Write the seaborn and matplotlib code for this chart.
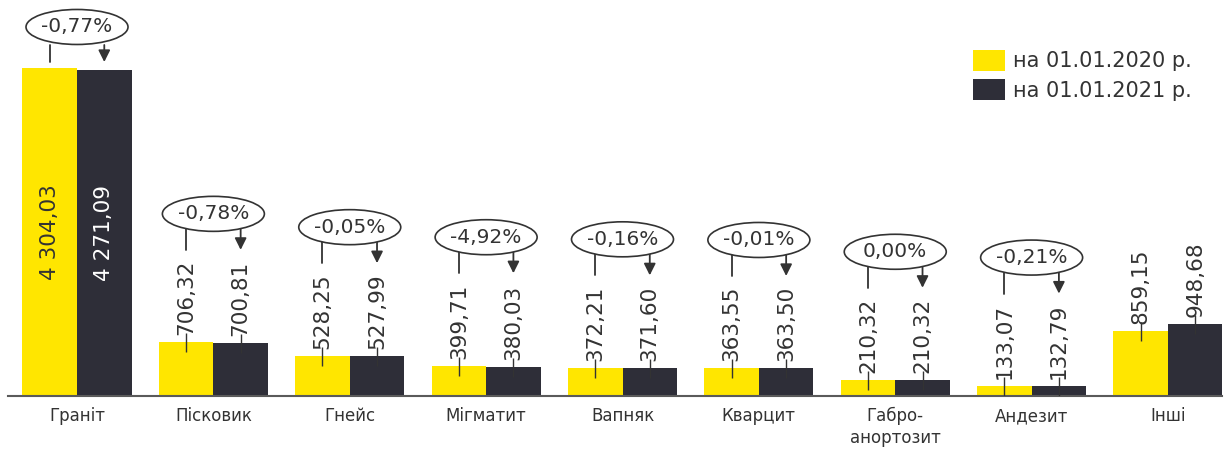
import numpy as np
import pandas as pd
import seaborn as sns
import matplotlib
matplotlib.use("Agg")
import matplotlib.pyplot as plt
from matplotlib.patches import Ellipse

# Reserves by rock type (million m3) and the relative change between the dates
categories = ["Граніт", "Пісковик", "Гнейс", "Мігматит", "Вапняк", "Кварцит",
              "Габро-\nанортозит", "Андезит", "Інші"]
reserves_2020 = [4304.03, 706.32, 528.25, 399.71, 372.21, 363.55, 210.32, 133.07, 859.15]
reserves_2021 = [4271.09, 700.81, 527.99, 380.03, 371.60, 363.50, 210.32, 132.79, 948.68]
change_labels = ["-0,77%", "-0,78%", "-0,05%", "-4,92%", "-0,16%", "-0,01%",
                 "0,00%", "-0,21%", None]
series_names = ["на 01.01.2020 р.", "на 01.01.2021 р."]

YELLOW = "#FFE600"
DARK = "#2E2E38"
TEXT = "#333333"


def fmt(v):
    s = f"{v:,.2f}"
    return s.replace(",", " ").replace(".", ",")


df = pd.DataFrame({
    "category": categories * 2,
    "value": reserves_2020 + reserves_2021,
    "period": [series_names[0]] * len(categories) + [series_names[1]] * len(categories),
})

sns.set_theme(style="white")
plt.rcParams["font.family"] = ["DejaVu Sans"]

W, H = 1231, 451
fig = plt.figure(figsize=(W / 100, H / 100), dpi=100)
ax = fig.add_axes([8 / W, 55 / H, 1214 / W, 396 / H])

sns.barplot(data=df, x="category", y="value", hue="period", order=categories,
            hue_order=series_names, palette=[YELLOW, DARK], saturation=1,
            width=0.8, gap=0, linewidth=0, errorbar=None, ax=ax)

ax.set_xlim(-0.506, 8.396)
ax.set_ylim(0, 5196)
ax.set_xlabel("")
ax.set_ylabel("")
ax.set_yticks([])
for side in ["left", "right", "top"]:
    ax.spines[side].set_visible(False)
ax.spines["bottom"].set_color("#5a5a5a")
ax.spines["bottom"].set_linewidth(1.5)
ax.tick_params(axis="x", length=0, pad=8, labelsize=12, labelcolor=TEXT)
for lbl in ax.get_xticklabels():
    lbl.set_linespacing(1.25)

handles, labels = ax.get_legend_handles_labels()
ax.legend(handles, labels, loc="upper left",
          bbox_to_anchor=(973 / W, 1 - 50 / H), bbox_transform=fig.transFigure,
          frameon=False, fontsize=15, labelcolor=TEXT,
          handlelength=1.54, handleheight=1.15, handletextpad=0.4,
          labelspacing=0.38, borderpad=0, borderaxespad=0)

# value labels
bars = [list(c) for c in ax.containers[:2]]
label_artists = [[None] * len(categories) for _ in range(2)]
for s in range(2):
    for i, bar in enumerate(bars[s]):
        x = bar.get_x() + bar.get_width() / 2
        h = bar.get_height()
        if i == 0:
            ax.text(x, h / 2, fmt(h), rotation=90, ha="center", va="center",
                    fontsize=15.5, color=TEXT if s == 0 else "white", zorder=5)
        else:
            t = ax.annotate(fmt(h), (x, h), xytext=(0, 5), textcoords="offset points",
                            rotation=90, ha="center", va="bottom", fontsize=15.5,
                            color=TEXT, zorder=5)
            label_artists[s][i] = t

fig.canvas.draw()
renderer = fig.canvas.get_renderer()
to_disp = ax.transData
to_data = ax.transData.inverted()
px_per_x = to_disp.transform((1, 0))[0] - to_disp.transform((0, 0))[0]
px_per_y = to_disp.transform((0, 1))[1] - to_disp.transform((0, 0))[1]


def ydata(py):
    return to_data.transform((0, py))[1]


# short leader ticks from labels into bars
for s in range(2):
    for i, bar in enumerate(bars[s]):
        if i == 0:
            continue
        x = bar.get_x() + bar.get_width() / 2
        top_px = to_disp.transform((x, bar.get_height()))[1]
        ax.plot([x, x], [ydata(top_px - 10), ydata(top_px + 9)], color=TEXT,
                lw=1.0, zorder=4, solid_capstyle="butt")

# change callouts
for i, lab in enumerate(change_labels):
    if lab is None:
        continue
    b0, b1 = bars[0][i], bars[1][i]
    x0 = b0.get_x() + b0.get_width() / 2
    x1 = b1.get_x() + b1.get_width() / 2
    xc = (x0 + x1) / 2
    if i == 0:
        ref = max(to_disp.transform((x0, b0.get_height()))[1],
                  to_disp.transform((x1, b1.get_height()))[1])
        y_lo, y_hi, y_c = ref + 6, ref + 23, ref + 41
    else:
        ref = max(label_artists[0][i].get_window_extent(renderer).y1,
                  label_artists[1][i].get_window_extent(renderer).y1)
        y_lo, y_hi, y_c = ref + 10, ref + 31, ref + 46
    ax.plot([x0, x0], [ydata(y_lo), ydata(y_hi)], color=TEXT, lw=1.3, zorder=4)
    ax.annotate("", xy=(x1, ydata(y_lo)), xytext=(x1, ydata(y_hi)),
                arrowprops=dict(arrowstyle="-|>,head_length=0.5,head_width=0.25",
                                mutation_scale=14, color=TEXT, lw=1.3,
                                shrinkA=0, shrinkB=0), zorder=4)
    ell = Ellipse((xc, ydata(y_c)), width=102 / px_per_x, height=35 / px_per_y,
                  facecolor="white", edgecolor=TEXT, lw=1.2, zorder=6)
    ax.add_patch(ell)
    ax.text(xc, ydata(y_c), lab, ha="center", va="center", fontsize=14.5,
            color=TEXT, zorder=7)

fig.savefig("out.png", dpi=100)
